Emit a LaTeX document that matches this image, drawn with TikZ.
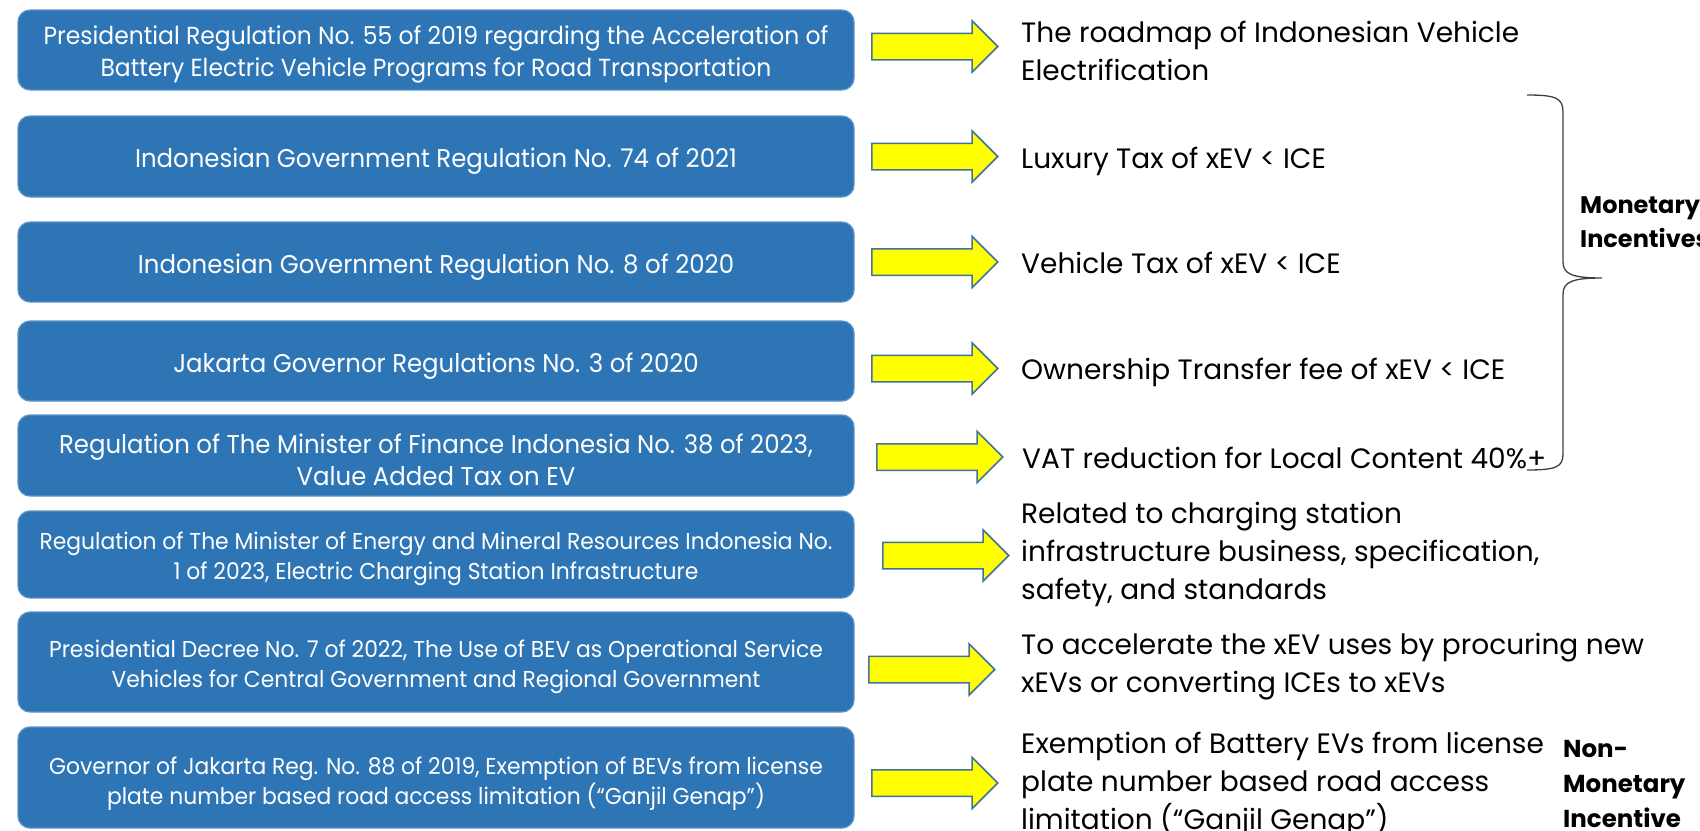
\documentclass[tikz,border=0pt]{standalone}
\usepackage{fontspec}
\setmainfont{Poppins}
\newfontfamily\boxfont{Poppins}[FakeStretch=0.95]
\usetikzlibrary{shapes.arrows}
\definecolor{boxblue}{HTML}{2E75B6}
\definecolor{boxline}{HTML}{5A93C8}
\definecolor{arrowedge}{HTML}{41719C}
\definecolor{arrowfill}{HTML}{FFFF00}
\definecolor{bracegray}{HTML}{404040}
\begin{document}
\begin{tikzpicture}[x=1pt,y=-1pt,
  regbox/.style={rectangle, rounded corners=12pt, fill=boxblue, draw=boxline, line width=1.2pt,
    inner sep=0pt, minimum width=836pt},
  regtext/.style={text=white, align=center, inner sep=0pt,
    font=\boxfont\fontsize{25.7}{32}\selectfont},
  regtexta/.style={regtext, font=\boxfont\fontsize{24.7}{32}\selectfont},
  regtexts/.style={regtext, font=\boxfont\fontsize{23}{30}\selectfont},
  yarrow/.style={single arrow, draw=arrowedge, fill=arrowfill, line width=1.5pt,
    minimum height=126pt, single arrow head extend=12.5pt,
    single arrow tip angle=90, inner sep=0pt, anchor=tail},
  restext/.style={anchor=base west, align=left, inner sep=0pt, text=black,
    font=\fontsize{28}{38}\selectfont},
  inclab/.style={anchor=base west, align=left, inner sep=0pt, text=black,
    font=\bfseries\fontsize{24}{34}\selectfont}
]
\useasboundingbox (0,0) rectangle (1700,830);

% regulation boxes
\node[regbox, minimum height=80pt] (b1) at (436,50) {};
\node[regbox, minimum height=81pt] (b2) at (436,156.5) {};
\node[regbox, minimum height=80pt] (b3) at (436,262) {};
\node[regbox, minimum height=80pt] (b4) at (436,361) {};
\node[regbox, minimum height=81pt] (b5) at (436,455.5) {};
\node[regbox, minimum height=87pt] (b6) at (436,554.5) {};
\node[regbox, minimum height=100pt] (b7) at (436,662) {};
\node[regbox, minimum height=101pt] (b8) at (436,777.5) {};

% texts in the boxes
\node[regtexta] (b1t) at ([yshift=-4pt]b1.center)
  {Presidential Regulation No. 55 of 2019 regarding the Acceleration of\\Battery Electric Vehicle Programs for Road Transportation};
\node[regtext] (b2t) at ([yshift=-5pt]b2.center)
  {Indonesian Government Regulation No. 74 of 2021};
\node[regtext] (b3t) at ([yshift=-5pt]b3.center)
  {Indonesian Government Regulation No. 8 of 2020};
\node[regtext] (b4t) at ([yshift=-5pt]b4.center)
  {Jakarta Governor Regulations No. 3 of 2020};
\node[regtext] (b5t) at ([yshift=-4pt]b5.center)
  {Regulation of The Minister of Finance Indonesia No. 38 of 2023,\\Value Added Tax on EV};
\node[regtexts] (b6t) at ([yshift=-4.5pt]b6.center)
  {Regulation of The Minister of Energy and Mineral Resources Indonesia No.\\1 of 2023, Electric Charging Station Infrastructure};
\node[regtexts] (b7t) at ([yshift=-5pt]b7.center)
  {Presidential Decree No. 7 of 2022, The Use of BEV as Operational Service\\Vehicles for Central Government and Regional Government};
\node[regtexts] (b8t) at ([yshift=-6pt]b8.center)
  {Governor of Jakarta Reg. No. 88 of 2019, Exemption of BEVs from license\\plate number based road access limitation (“Ganjil Genap”)};

% yellow arrows
\node[yarrow] (a1) at (871,46.5) {\rule{0pt}{25pt}};
\node[yarrow] (a2) at (871,156.5) {\rule{0pt}{25pt}};
\node[yarrow] (a3) at (871,262) {\rule{0pt}{25pt}};
\node[yarrow] (a4) at (871,368.5) {\rule{0pt}{25pt}};
\node[yarrow] (a5) at (876,457) {\rule{0pt}{25pt}};
\node[yarrow] (a6) at (882,555.5) {\rule{0pt}{25pt}};
\node[yarrow] (a7) at (868,669.5) {\rule{0pt}{25pt}};
\node[yarrow] (a8) at (871,783) {\rule{0pt}{25pt}};

% results (base anchor = baseline of the last line)
\node[restext] (t1) at (1021,80) {The roadmap of Indonesian Vehicle\\Electrification};
\node[restext] (t2) at (1021,168) {Luxury Tax of xEV < ICE};
\node[restext] (t3) at (1021,273) {Vehicle Tax of xEV < ICE};
\node[restext] (t4) at (1021,379) {Ownership Transfer fee of xEV < ICE};
\node[restext] (t5) at (1022,468) {VAT reduction for Local Content 40\%+};
\node[restext] (t6) at (1021,599) {Related to charging station\\infrastructure business, specification,\\safety, and standards};
\node[restext] (t7) at (1021,692) {To accelerate the xEV uses by procuring new\\xEVs or converting ICEs to xEVs};
\node[restext] (t8) at (1021,829) {Exemption of Battery EVs from license\\plate number based road access\\limitation (“Ganjil Genap”)};

% brace
\coordinate (brtop) at (1527,95);
\coordinate (brtip) at (1602,278);
\coordinate (brbot) at (1527,470);
\draw[bracegray, line width=1.3pt]
  (brtop) .. controls (1556,95) and (1563,98) .. (1563,112)
  -- (1563,262) .. controls (1563,274) and (1572,278) .. (brtip)
  .. controls (1572,278) and (1563,282) .. (1563,294)
  -- (1563,454) .. controls (1563,467) and (1556,470) .. (brbot);

% category labels
\node[inclab] (mon) at (1580,247) {Monetary\\Incentives};
\node[inclab, font=\bfseries\fontsize{24.5}{35}\selectfont] (nonmon) at (1563,827) {Non-\\Monetary\\Incentive};
\end{tikzpicture}
\end{document}
